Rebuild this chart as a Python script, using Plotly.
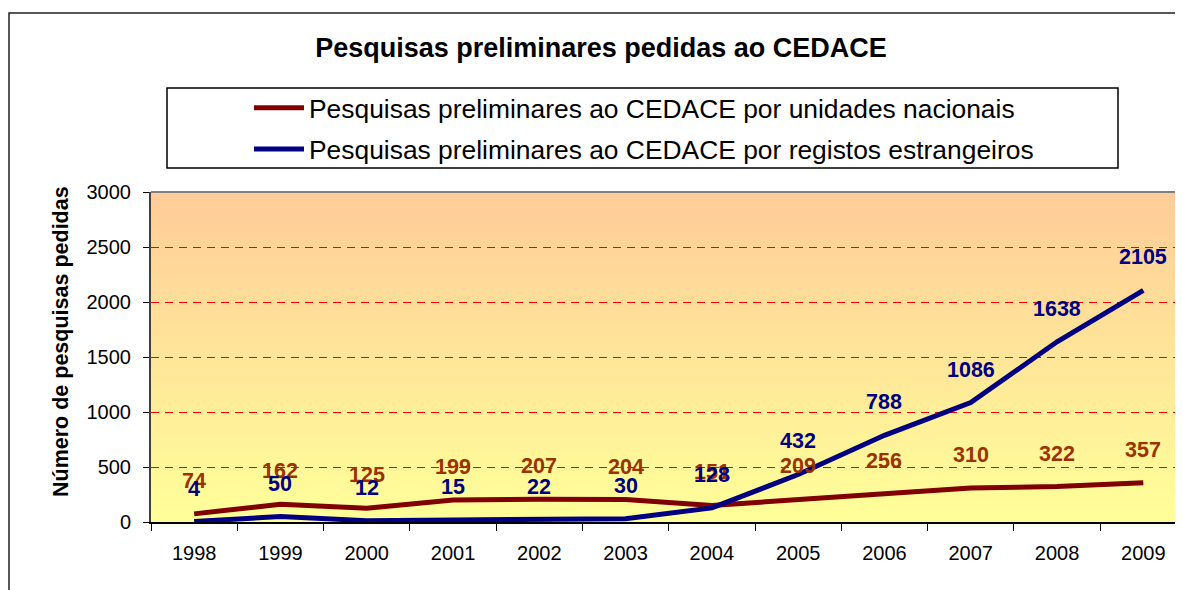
import plotly.graph_objects as go

years = ["1998", "1999", "2000", "2001", "2002", "2003", "2004", "2005", "2006", "2007", "2008", "2009"]
nacionais = [74, 162, 125, 199, 207, 204, 151, 209, 256, 310, 322, 357]
estrangeiros = [4, 50, 12, 15, 22, 30, 128, 432, 788, 1086, 1638, 2105]

name_nac = "Pesquisas preliminares ao CEDACE por unidades nacionais"
name_est = "Pesquisas preliminares ao CEDACE por registos estrangeiros"
title_text = "Pesquisas preliminares pedidas ao CEDACE"
ytitle = "Número de pesquisas pedidas"

RED_LINE = "#800000"
BLUE_LINE = "#000080"
RED_LABEL = "#993300"
BLUE_LABEL = "#000080"
FONT = "Arial, Liberation Sans, sans-serif"

# the page body adds an 8px margin; the figure is sized/placed to compensate
OFF = 8
W, H = 1183 - OFF, 590 - OFF
L, R, T, B = 151 - OFF, 0, 192 - OFF, 590 - 522
pw = W - L - R
ph = H - T - B


def px_x(p):
    return (p - OFF - L) / pw


def px_y(p):
    return (H - B - (p - OFF)) / ph


fig = go.Figure()
fig.add_trace(go.Scatter(x=years, y=nacionais, mode="lines", name=name_nac,
                         line=dict(color=RED_LINE, width=5), legendgroup="a"))
fig.add_trace(go.Scatter(x=years, y=estrangeiros, mode="lines", name=name_est,
                         line=dict(color=BLUE_LINE, width=5), legendgroup="b"))

shapes = []
# gradient background bands
n = 80
top = (255, 204, 153)
bot = (255, 255, 153)
for i in range(n):
    f = i / (n - 1)
    c = tuple(round(bot[k] + (top[k] - bot[k]) * f) for k in range(3))
    shapes.append(dict(type="rect", xref="paper", yref="paper", x0=0, x1=1,
                       y0=i / n, y1=(i + 1) / n + 0.002, line=dict(width=0),
                       fillcolor="rgb(%d,%d,%d)" % c, layer="below"))
# top border of plot area
shapes.append(dict(type="line", xref="paper", yref="paper", x0=0, x1=1, y0=1, y1=1,
                   line=dict(color="#808080", width=2)))
# legend box
shapes.append(dict(type="rect", xref="paper", yref="paper",
                   x0=px_x(167), x1=px_x(1118), y0=px_y(168), y1=px_y(88),
                   line=dict(color="#000000", width=1.5), fillcolor="rgba(0,0,0,0)"))
# outer chart border
shapes.append(dict(type="rect", xref="paper", yref="paper",
                   x0=px_x(9), x1=px_x(1220), y0=px_y(640), y1=px_y(13),
                   line=dict(color="#202020", width=1.5), fillcolor="rgba(0,0,0,0)"))

annotations = []
for i, v in enumerate(nacionais):
    annotations.append(dict(x=i, y=v, xref="x", yref="y", text="<b>%d</b>" % v, showarrow=False,
                            yshift=33, font=dict(family=FONT, size=21.5, color=RED_LABEL)))
for i, v in enumerate(estrangeiros):
    annotations.append(dict(x=i, y=v, xref="x", yref="y", text="<b>%d</b>" % v, showarrow=False,
                            yshift=33, font=dict(family=FONT, size=21.5, color=BLUE_LABEL)))
annotations.append(dict(x=px_x(61), y=px_y(342), xref="paper", yref="paper", text="<b>%s</b>" % ytitle,
                        textangle=-90, showarrow=False, xanchor="center", yanchor="middle",
                        font=dict(family=FONT, size=21.5, color="#000000")))

fig.update_layout(
    width=W, height=H,
    margin=dict(l=L, r=R, t=T, b=B, pad=0),
    paper_bgcolor="white",
    plot_bgcolor="rgba(0,0,0,0)",
    font=dict(family=FONT, color="#000000"),
    title=dict(text="<b>%s</b>" % title_text, x=(601 - OFF) / W, xanchor="center",
               y=1 - (48 - OFF) / H, yanchor="middle", yref="container",
               font=dict(family=FONT, size=27, color="#000000")),
    showlegend=True,
    legend=dict(x=px_x(249), y=px_y(84), xanchor="left", yanchor="top",
                bgcolor="rgba(0,0,0,0)", borderwidth=0, tracegroupgap=4,
                font=dict(family=FONT, size=26.4, color="#000000"), itemwidth=50),
    shapes=shapes,
    annotations=annotations,
    xaxis=dict(type="category", range=[-0.5, 11.46], tickson="boundaries",
               ticks="outside", ticklen=7, tickcolor="#000000", showgrid=False,
               showline=True, linecolor="#000000", linewidth=1.5,
               tickfont=dict(family=FONT, size=20, color="#000000"),
               ticklabelstandoff=12, fixedrange=True),
    yaxis=dict(range=[0, 3000], dtick=500, ticks="outside", ticklen=6, tickcolor="#000000",
               showline=True, linecolor="#404040", linewidth=2,
               showgrid=True, gridcolor="#FF0000", gridwidth=1, griddash="8px,6px",
               zeroline=False,
               tickfont=dict(family=FONT, size=20, color="#000000"),
               ticklabelstandoff=8, fixedrange=True),
)

fig.write_html("out.html")
